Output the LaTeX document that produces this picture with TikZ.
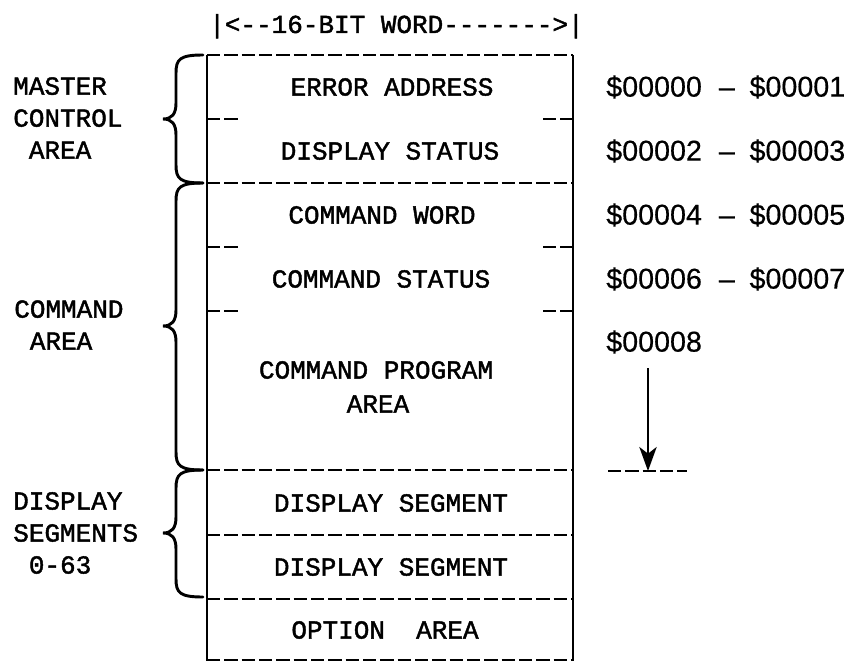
\documentclass[tikz,border=0pt]{standalone}
\usepackage{fontspec}
\setmonofont{Liberation Mono}[FakeBold=1.6]
\setsansfont{Liberation Sans}[FakeBold=0.5]
\usetikzlibrary{arrows.meta}

% curly brace opening to the right: #1 = top y, #2 = bottom y, #3 = tip y
\newcommand{\sidebrace}[3]{%
  \draw[brc] (203,#1) .. controls (180,#1) and (176,#1+4) .. (176,#1+18)
    -- (176,#3-16) .. controls (176,#3-5) and (172,#3) .. (163,#3)
    .. controls (172,#3) and (176,#3+5) .. (176,#3+16)
    -- (176,#2-18) .. controls (176,#2-4) and (180,#2) .. (203,#2);}

% address pair: start, dash, end
\newcommand{\addrpair}[2]{\makebox[85.5pt][l]{\$#1}\makebox[10pt][c]{–}\hspace{12pt}\$#2}

\begin{document}
\begin{tikzpicture}[x=0.75pt,y=-0.75pt,
  lbl/.style={font=\ttfamily\fontsize{19.5}{24}\selectfont, inner sep=0pt},
  adr/.style={font=\sffamily\fontsize{21.5}{24}\selectfont, inner sep=0pt, anchor=west},
  side/.style={line width=2pt},
  sep/.style={line width=1.8pt, dash pattern=on 10pt off 3pt},
  brc/.style={line width=2.2pt, line cap=round},
  tip/.style={line width=1.8pt, -{Stealth[length=18pt,width=13pt,inset=5pt]}}]
\useasboundingbox (0,0) rectangle (852,663);

% word width header
\node[lbl, anchor=base west] (hdr) at (209,33) {|<--16-BIT WORD------->|};

% memory block outline
\coordinate (tl) at (207,55);
\coordinate (tr) at (573,55);
\coordinate (bl) at (207,661);
\coordinate (br) at (573,661);
\draw[side] (tl) -- (bl);
\draw[side] (tr) -- (br);

% full-width boundaries
\foreach \yy in {55,183,470,535,599,660}
  \draw[sep] (207,\yy) -- (573,\yy);

% word boundaries inside an area
\foreach \yy in {119,247,311} {
  \draw[sep] (207,\yy) -- (238,\yy);
  \draw[sep] (543,\yy) -- (573,\yy);
}

% contents
\node[lbl] (err) at (392,87) {ERROR ADDRESS};
\node[lbl] (dst) at (390,151) {DISPLAY STATUS};
\node[lbl] (cwd) at (382,215) {COMMAND WORD};
\node[lbl] (cst) at (381,279) {COMMAND STATUS};
\node[lbl] (cpa) at (376,370) {COMMAND PROGRAM};
\node[lbl] (cpb) at (378,404) {AREA};
\node[lbl] (ds1) at (391,503) {DISPLAY SEGMENT};
\node[lbl] (ds2) at (391,567) {DISPLAY SEGMENT};
\node[lbl] (opt) at (385,630) {OPTION\ \ AREA};

% area labels
\node[lbl, anchor=west, align=left] (mca) at (13,118) {MASTER\\CONTROL\\\phantom{M}AREA};
\node[lbl, anchor=west, align=left] (cma) at (14,325) {COMMAND\\\phantom{M}AREA};
\node[lbl, anchor=west, align=left] (dsa) at (13,533) {DISPLAY\\SEGMENTS\\\phantom{M}0-63};

% braces
\sidebrace{55}{183}{119}
\sidebrace{183}{470}{326}
\sidebrace{470}{597}{533}

% addresses
\node[adr] (a0) at (606,87) {\addrpair{00000}{00001}};
\node[adr] (a2) at (606,151) {\addrpair{00002}{00003}};
\node[adr] (a4) at (606,215) {\addrpair{00004}{00005}};
\node[adr] (a6) at (606,279) {\addrpair{00006}{00007}};
\node[adr] (a8) at (606,342) {\$00008};

% open-ended command program area
\coordinate (arrS) at (648,368);
\coordinate (arrE) at (648,471);
\coordinate (stubL) at (608,471);
\coordinate (stubR) at (687,471);
\draw[sep] (stubL) -- (stubR);
\draw[tip] (arrS) -- (arrE);
\end{tikzpicture}
\end{document}
